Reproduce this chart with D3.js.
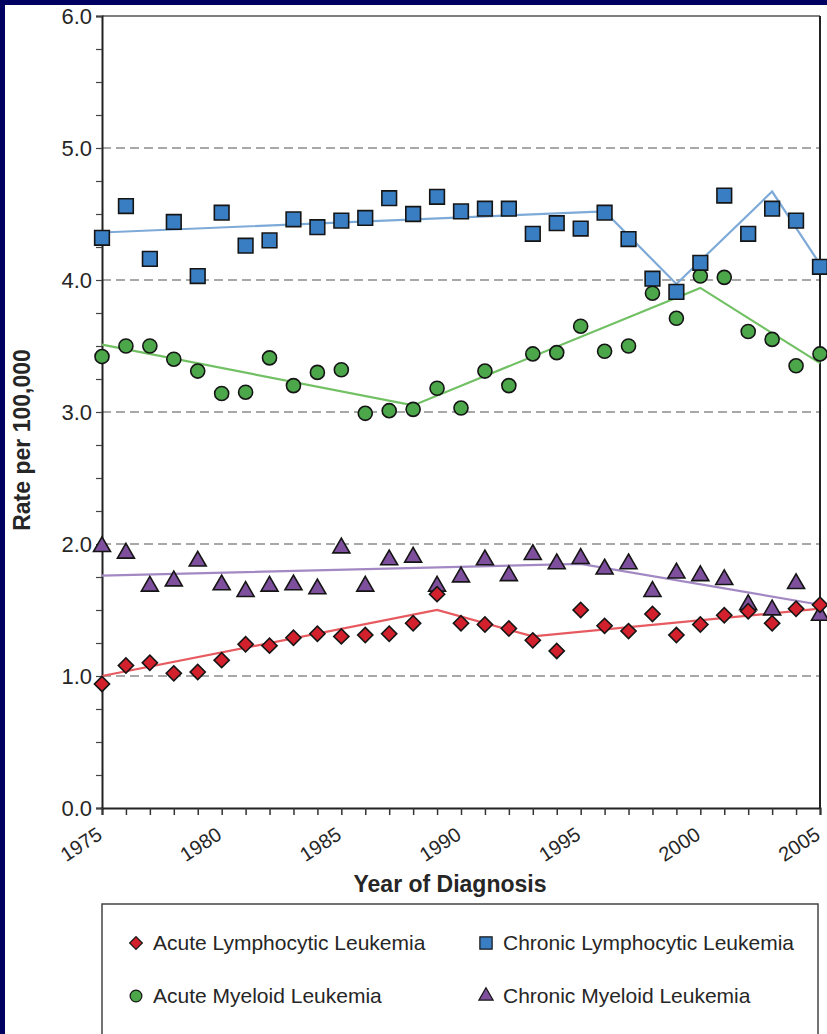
<!DOCTYPE html>
<html>
<head>
<meta charset="utf-8">
<script src="https://cdn.jsdelivr.net/npm/d3@7"></script>
<style>
  body { margin: 0; background: #000060; }
  svg { display: block; }
  text { font-family: "Liberation Sans", Arial, sans-serif; fill: #262626; }
</style>
</head>
<body>
<svg id="chart" width="827" height="1034"></svg>
<script>
// data
const years = [1975, 1976, 1977, 1978, 1979, 1980, 1981, 1982, 1983, 1984, 1985, 1986, 1987, 1988, 1989, 1990,
  1991, 1992, 1993, 1994, 1995, 1996, 1997, 1998, 1999, 2000, 2001, 2002, 2003, 2004, 2005]

const allRates = [0.94, 1.08, 1.10, 1.02, 1.03, 1.12, 1.24, 1.23, 1.29, 1.32, 1.30, 1.31, 1.32, 1.40, 1.62, 1.40,
  1.39, 1.36, 1.27, 1.19, 1.50, 1.38, 1.34, 1.47, 1.31, 1.39, 1.46, 1.49, 1.40, 1.51, 1.54]
const amlRates = [3.42, 3.50, 3.50, 3.40, 3.31, 3.14, 3.15, 3.41, 3.20, 3.30, 3.32, 2.99, 3.01, 3.02, 3.18, 3.03,
  3.31, 3.20, 3.44, 3.45, 3.65, 3.46, 3.50, 3.90, 3.71, 4.03, 4.02, 3.61, 3.55, 3.35, 3.44]
const cllRates = [4.32, 4.56, 4.16, 4.44, 4.03, 4.51, 4.26, 4.30, 4.46, 4.40, 4.45, 4.47, 4.62, 4.50, 4.63, 4.52,
  4.54, 4.54, 4.35, 4.43, 4.39, 4.51, 4.31, 4.01, 3.91, 4.13, 4.64, 4.35, 4.54, 4.45, 4.10]
const cmlRates = [1.98, 1.93, 1.68, 1.72, 1.87, 1.69, 1.64, 1.68, 1.69, 1.66, 1.97, 1.68, 1.88, 1.90, 1.68, 1.75,
  1.88, 1.76, 1.92, 1.85, 1.89, 1.81, 1.85, 1.64, 1.78, 1.76, 1.73, 1.54, 1.50, 1.70, 1.46]

// joinpoint trend lines (year, rate at each joint)
const allTrendYears = [1975, 1989, 1993, 2005]
const allTrend = [1.00, 1.50, 1.30, 1.51]
const amlTrendYears = [1975, 1988, 2000, 2005]
const amlTrend = [3.51, 3.05, 3.94, 3.37]
const cllTrendYears = [1975, 1996, 1999, 2003, 2005]
const cllTrend = [4.36, 4.52, 3.97, 4.67, 4.12]
const cmlTrendYears = [1975, 1995, 2005]
const cmlTrend = [1.76, 1.85, 1.54]

const yTickLabels = [0, 1, 2, 3, 4, 5, 6]
const xTickLabels = [1975, 1980, 1985, 1990, 1995, 2000, 2005]
const gridValues = [1, 2, 3, 4, 5]

const series = [
  { name: 'Chronic Myeloid Leukemia', rates: cmlRates, trendYears: cmlTrendYears, trend: cmlTrend,
    shape: d3.symbolTriangle, size: 125, rotate: 0, fill: '#7d4f9c', line: '#a389c4' },
  { name: 'Acute Lymphocytic Leukemia', rates: allRates, trendYears: allTrendYears, trend: allTrend,
    shape: d3.symbolSquare, size: 115, rotate: 45, fill: '#d2202c', line: '#e65a60' },
  { name: 'Acute Myeloid Leukemia', rates: amlRates, trendYears: amlTrendYears, trend: amlTrend,
    shape: d3.symbolCircle, size: 155, rotate: 0, fill: '#4ca64a', line: '#72c064' },
  { name: 'Chronic Lymphocytic Leukemia', rates: cllRates, trendYears: cllTrendYears, trend: cllTrend,
    shape: d3.symbolSquare, size: 215, rotate: 0, fill: '#397dc3', line: '#7eaad8' }
]

const svg = d3.select('#chart')

// white slide panel
svg.append('rect').attr('x', 5).attr('y', 5).attr('width', 822).attr('height', 1029).attr('fill', '#fff')

const x = d3.scaleLinear().domain([1975, 2005]).range([102, 820])
const y = d3.scaleLinear().domain([0, 6]).range([808, 16])

// dashed grid
svg.append('g')
  .selectAll('line')
  .data(gridValues)
  .join('line')
  .attr('x1', x(1975)).attr('x2', x(2005))
  .attr('y1', d => y(d)).attr('y2', d => y(d))
  .attr('stroke', '#8c8c8c')
  .attr('stroke-width', 1.5)
  .attr('stroke-dasharray', '9,5')

// frame top and right
svg.append('line').attr('x1', x(1975)).attr('x2', x(2005)).attr('y1', y(6)).attr('y2', y(6))
  .attr('stroke', '#555').attr('stroke-width', 1.5)
svg.append('line').attr('x1', x(2005)).attr('x2', x(2005)).attr('y1', y(6)).attr('y2', y(0))
  .attr('stroke', '#222').attr('stroke-width', 2)

// y axis
const yAxis = svg.append('g')
  .attr('transform', `translate(${x(1975)},0)`)
  .call(d3.axisLeft(y)
    .tickValues(d3.range(0, 6.01, 0.25))
    .tickSize(6)
    .tickFormat(d => yTickLabels.includes(d) ? d3.format('.1f')(d) : ''))
yAxis.select('.domain').attr('stroke', '#222').attr('stroke-width', 2)
yAxis.selectAll('.tick line').attr('stroke', '#444').attr('stroke-width', 1.2)
yAxis.selectAll('.tick text').attr('font-size', 22).attr('fill', '#262626').attr('x', -10)
  .style('font-family', '"Liberation Sans", Arial, sans-serif')

// x axis
const xAxis = svg.append('g')
  .attr('transform', `translate(0,${y(0)})`)
  .call(d3.axisBottom(x)
    .tickValues(years)
    .tickSize(7)
    .tickFormat(d => xTickLabels.includes(d) ? d : ''))
xAxis.select('.domain').attr('stroke', '#222').attr('stroke-width', 2)
xAxis.selectAll('.tick line').attr('stroke', '#333').attr('stroke-width', 1.5)
xAxis.selectAll('.tick text')
  .attr('font-size', 20)
  .attr('fill', '#262626')
  .attr('text-anchor', 'end')
  .attr('x', 0).attr('y', 0).attr('dy', 0)
  .attr('transform', 'translate(1,30) rotate(-33)')
  .style('font-family', '"Liberation Sans", Arial, sans-serif')

// axis titles
svg.append('text')
  .attr('transform', 'translate(30,440) rotate(-90)')
  .attr('text-anchor', 'middle')
  .attr('font-size', 23)
  .attr('font-weight', 'bold')
  .text('Rate per 100,000')

svg.append('text')
  .attr('x', 450).attr('y', 892)
  .attr('text-anchor', 'middle')
  .attr('font-size', 23)
  .attr('font-weight', 'bold')
  .text('Year of Diagnosis')

// trend lines
const trendLine = d3.line().x(d => x(d[0])).y(d => y(d[1]))
svg.append('g')
  .selectAll('path')
  .data(series)
  .join('path')
  .attr('d', s => trendLine(s.trendYears.map((yr, i) => [yr, s.trend[i]])))
  .attr('fill', 'none')
  .attr('stroke', s => s.line)
  .attr('stroke-width', 2.2)

// markers
series.forEach(s => {
  const sym = d3.symbol().type(s.shape).size(s.size)
  svg.append('g')
    .selectAll('path')
    .data(s.rates)
    .join('path')
    .attr('d', sym)
    .attr('transform', (d, i) => `translate(${x(years[i])},${y(d)}) rotate(${s.rotate})`)
    .attr('fill', s.fill)
    .attr('stroke', '#151515')
    .attr('stroke-width', 1.6)
})

// legend
svg.append('rect')
  .attr('x', 102).attr('y', 904).attr('width', 716).attr('height', 150)
  .attr('fill', 'none').attr('stroke', '#444').attr('stroke-width', 1.5)

const legendOrder = [series[1], series[3], series[2], series[0]]
const legendPos = [[136, 943], [486, 943], [136, 996], [486, 996]]
const legend = svg.append('g')
  .selectAll('g')
  .data(legendOrder)
  .join('g')
  .attr('transform', (d, i) => `translate(${legendPos[i][0]},${legendPos[i][1]})`)
legend.append('path')
  .attr('d', s => d3.symbol().type(s.shape).size(s.size * 0.7)())
  .attr('transform', s => `rotate(${s.rotate})`)
  .attr('fill', s => s.fill)
  .attr('stroke', '#151515')
  .attr('stroke-width', 1.2)
legend.append('text')
  .attr('x', 17).attr('y', 7)
  .attr('font-size', 21)
  .text(s => s.name)
</script>
</body>
</html>
